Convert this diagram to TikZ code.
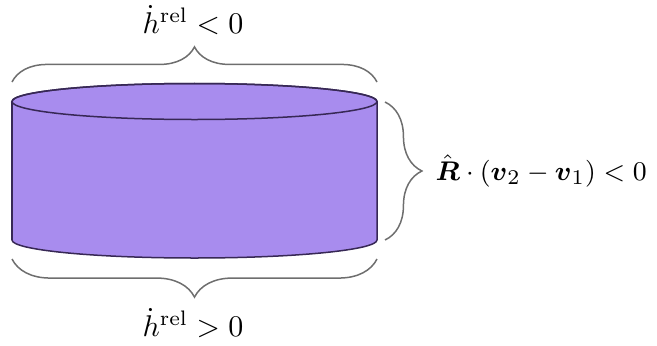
\documentclass[tikz,border=0pt]{standalone}
\usepackage{amsmath,amssymb}
\usetikzlibrary{decorations.pathreplacing}
\definecolor{cylfill}{RGB}{168,140,238}
\definecolor{cyledge}{RGB}{55,40,85}
\definecolor{bracegray}{RGB}{110,110,110}
\tikzset{
  bracestyle/.style={draw=bracegray, line width=0.5pt, decorate},
  lbl/.style={inner sep=0pt, font=\normalsize},
}
\begin{document}
\begin{tikzpicture}[x=0.3333pt,y=0.3333pt]
\useasboundingbox (0,0) rectangle (657,345);
% cylinder
\coordinate (tc) at (194.5,243.5);
\coordinate (bc) at (194.5,105);
\filldraw[fill=cylfill, draw=cyledge, line width=0.5pt]
  (12,243.5) -- (12,105) arc[start angle=180, end angle=360, x radius=60.83pt, y radius=6pt]
  -- (377,243.5) arc[start angle=0, end angle=180, x radius=60.83pt, y radius=6pt] -- cycle;
\draw[cyledge, line width=0.5pt] (tc) ellipse [x radius=60.83pt, y radius=6pt];
% brace end points
\coordinate (t1) at (12,263);
\coordinate (t2) at (377,263);
\coordinate (b1) at (377,86);
\coordinate (b2) at (12,86);
\coordinate (r1) at (385,243);
\coordinate (r2) at (385,105);
\draw[bracestyle, decoration={brace, amplitude=11.7pt}] (t1) -- (t2);
\draw[bracestyle, decoration={brace, amplitude=12.7pt}] (b1) -- (b2);
\draw[bracestyle, decoration={brace, amplitude=12.3pt}] (r1) -- (r2);
% labels
\node[lbl] (top) at (193,325) {$\dot{h}^{\mathrm{rel}} < 0$};
\node[lbl] (bot) at (193,22) {$\dot{h}^{\mathrm{rel}} > 0$};
\node[lbl, anchor=west, font=\fontsize{9.5}{11}\selectfont] (right) at (435,174) {$\hat{\boldsymbol{R}}\cdot(\boldsymbol{v}_2-\boldsymbol{v}_1)<0$};
\end{tikzpicture}
\end{document}
